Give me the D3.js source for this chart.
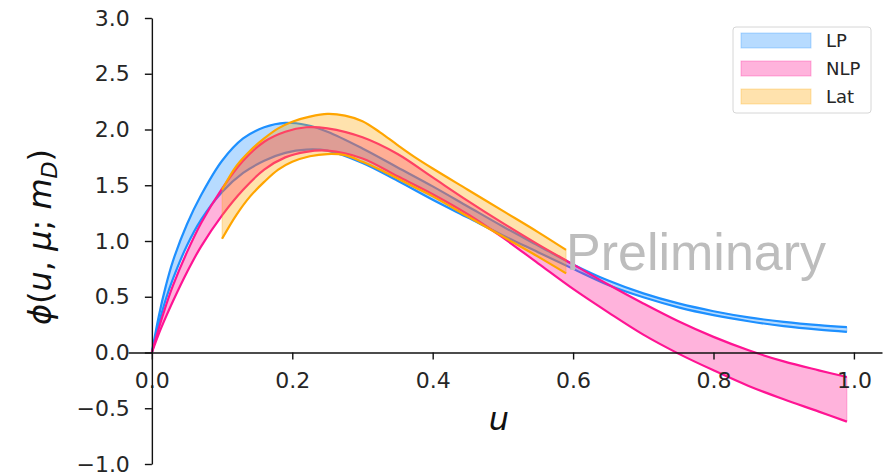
<!DOCTYPE html>
<html>
<head>
<meta charset="utf-8">
<script src="https://cdn.jsdelivr.net/npm/d3@7"></script>
<style>
  body { margin: 0; background: #fff; }
  svg { display: block; }
</style>
</head>
<body>
<div id="chart"></div>
<script>
// shared u grid for LP and NLP
const uGrid = [0, 0.01, 0.02, 0.03, 0.05, 0.07, 0.1, 0.13, 0.16, 0.19, 0.22, 0.25, 0.3, 0.35, 0.4,
  0.45, 0.5, 0.55, 0.6, 0.65, 0.7, 0.75, 0.8, 0.85, 0.9, 0.95, 0.99];

const lpHigh = [0, 0.33, 0.60, 0.82, 1.15, 1.41, 1.72, 1.92, 2.02, 2.06, 2.04, 1.98, 1.83, 1.66, 1.49,
  1.31, 1.13, 0.96, 0.79, 0.645, 0.53, 0.44, 0.37, 0.315, 0.275, 0.245, 0.227];
const lpLow = [0, 0.26, 0.48, 0.66, 0.96, 1.19, 1.44, 1.61, 1.72, 1.79, 1.82, 1.81, 1.70, 1.54, 1.37,
  1.21, 1.05, 0.90, 0.75, 0.605, 0.495, 0.405, 0.335, 0.28, 0.237, 0.205, 0.185];

const nlpHigh = [0, 0.22, 0.42, 0.60, 0.90, 1.16, 1.47, 1.72, 1.89, 1.98, 2.02, 2.01, 1.93, 1.78, 1.57,
  1.36, 1.16, 0.97, 0.79, 0.61, 0.44, 0.28, 0.14, 0.02, -0.08, -0.16, -0.22];
const nlpLow = [0, 0.17, 0.32, 0.46, 0.72, 0.95, 1.23, 1.46, 1.64, 1.75, 1.80, 1.81, 1.74, 1.58, 1.42,
  1.24, 1.03, 0.80, 0.57, 0.36, 0.16, -0.01, -0.16, -0.30, -0.42, -0.53, -0.62];

// Lat only covers part of the range
const latU = [0.1, 0.12, 0.14, 0.16, 0.18, 0.2, 0.225, 0.25, 0.275, 0.3, 0.325, 0.35, 0.375, 0.4,
  0.45, 0.5, 0.55, 0.59];
const latHigh = [1.46, 1.67, 1.81, 1.92, 2.01, 2.07, 2.115, 2.14, 2.125, 2.075, 1.975, 1.86, 1.75, 1.65,
  1.46, 1.27, 1.08, 0.92];
const latLow = [1.02, 1.23, 1.40, 1.53, 1.64, 1.71, 1.76, 1.78, 1.77, 1.71, 1.64, 1.56, 1.48, 1.40,
  1.22, 1.04, 0.86, 0.71];

const xTicks = [0, 0.2, 0.4, 0.6, 0.8, 1.0];
const yTicks = [-1, -0.5, 0, 0.5, 1, 1.5, 2, 2.5, 3];

const seriesNames = ['LP', 'NLP', 'Lat'];
const seriesColors = ['#1e90ff', '#ff1493', '#ffa500'];

const W = 892, H = 475;
const FONT = '"DejaVu Sans", sans-serif';

const svg = d3.select('#chart').append('svg')
  .attr('width', W)
  .attr('height', H);

const x = d3.scaleLinear().domain([-0.034, 1.04]).range([128, 882]);
const y = d3.scaleLinear().domain([-1, 3]).range([464, 18]);

function zipBand(us, lo, hi){
  return us.map((u, i) => ({ u: u, lo: lo[i], hi: hi[i] }));
}

const bands = [
  zipBand(uGrid, lpLow, lpHigh),
  zipBand(uGrid, nlpLow, nlpHigh),
  zipBand(latU, latLow, latHigh)
];

const curve = d3.curveCatmullRom.alpha(0.5);

const area = d3.area()
  .x(d => x(d.u))
  .y0(d => y(d.lo))
  .y1(d => y(d.hi))
  .curve(curve);

const lineHi = d3.line().x(d => x(d.u)).y(d => y(d.hi)).curve(curve);
const lineLo = d3.line().x(d => x(d.u)).y(d => y(d.lo)).curve(curve);

const plot = svg.append('g').attr('class', 'bands');

bands.forEach((band, i) => {
  const c = seriesColors[i];
  const g = plot.append('g');
  g.append('path')
    .datum(band)
    .attr('d', area)
    .attr('fill', c)
    .attr('fill-opacity', 0.32)
    .attr('stroke', c)
    .attr('stroke-opacity', 0.3)
    .attr('stroke-width', 1);
  g.append('path')
    .datum(band)
    .attr('d', lineHi)
    .attr('fill', 'none')
    .attr('stroke', c)
    .attr('stroke-width', 2.2);
  g.append('path')
    .datum(band)
    .attr('d', lineLo)
    .attr('fill', 'none')
    .attr('stroke', c)
    .attr('stroke-width', 2.2);
});

/* axes cross at the origin */
const xAxis = svg.append('g')
  .attr('transform', `translate(0,${y(0)})`)
  .call(d3.axisBottom(x)
    .tickValues(xTicks)
    .tickFormat(d3.format('.1f'))
    .tickSize(7)
    .tickSizeOuter(0)
    .tickPadding(13));

const yAxis = svg.append('g')
  .attr('transform', `translate(${x(0)},0)`)
  .call(d3.axisLeft(y)
    .tickValues(yTicks)
    .tickFormat(d => d3.format('.1f')(d).replace('-', '\u2212'))
    .tickSize(7)
    .tickSizeOuter(0)
    .tickPadding(15));

[xAxis, yAxis].forEach(ax => {
  ax.attr('font-family', FONT).attr('font-size', 22);
  ax.select('.domain').attr('stroke', '#111').attr('stroke-width', 1.4);
  ax.selectAll('.tick line').attr('stroke', '#111').attr('stroke-width', 1.4);
  ax.selectAll('.tick text').attr('fill', '#262626');
});

// axis labels, mathtext style
const yLabel = svg.append('text')
  .attr('transform', `translate(51,237) rotate(-90)`)
  .attr('text-anchor', 'middle')
  .attr('font-family', FONT)
  .attr('font-size', 32)
  .attr('fill', '#111');

[['\u03d5', true], ['(', false], ['u', true], [', ', false], ['\u03bc', true], ['; ', false], ['m', true]]
  .forEach(([t, it]) => {
    yLabel.append('tspan')
      .attr('font-style', it ? 'italic' : 'normal')
      .text(t);
  });
yLabel.append('tspan')
  .attr('font-style', 'italic')
  .attr('font-size', 22)
  .attr('dy', 6)
  .text('D');
yLabel.append('tspan')
  .attr('dy', -6)
  .text(')');

svg.append('text')
  .attr('x', 499)
  .attr('y', 430)
  .attr('text-anchor', 'middle')
  .attr('font-family', FONT)
  .attr('font-style', 'italic')
  .attr('font-size', 32)
  .attr('fill', '#111')
  .text('u');

svg.append('text')
  .attr('x', 566)
  .attr('y', 270)
  .attr('font-family', '"Liberation Sans", Arial, sans-serif')
  .attr('font-size', 52)
  .attr('fill', '#bdbdbd')
  .text('Preliminary');

// legend
const legend = svg.append('g').attr('transform', 'translate(733,27)');
legend.append('rect')
  .attr('width', 138)
  .attr('height', 86)
  .attr('rx', 3)
  .attr('fill', '#fff')
  .attr('fill-opacity', 0.8)
  .attr('stroke', '#d6d6d6')
  .attr('stroke-width', 1);

seriesNames.forEach((name, i) => {
  const row = legend.append('g').attr('transform', `translate(0,${13.5 + i * 28})`);
  row.append('rect')
    .attr('x', 8)
    .attr('y', -7.5)
    .attr('width', 70)
    .attr('height', 15)
    .attr('fill', seriesColors[i])
    .attr('fill-opacity', 0.32)
    .attr('stroke', seriesColors[i])
    .attr('stroke-opacity', 0.3);
  row.append('text')
    .attr('x', 93)
    .attr('y', 6.5)
    .attr('font-family', FONT)
    .attr('font-size', 18)
    .attr('fill', '#262626')
    .text(name);
});
</script>
</body>
</html>
